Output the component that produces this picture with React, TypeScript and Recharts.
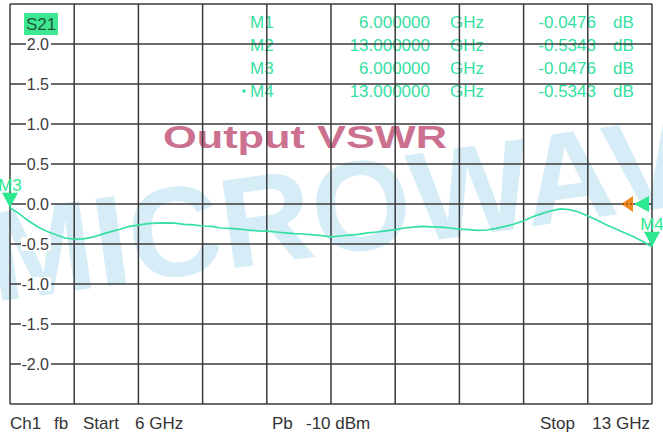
import { ComposedChart, Line, Scatter, XAxis, YAxis, CartesianGrid, ReferenceDot } from 'recharts';

const FREQS = [
  6.0, 6.1, 6.2, 6.3, 6.4, 6.5, 6.6, 6.7, 6.8, 6.9,
  7.0, 7.1, 7.2, 7.3, 7.4, 7.5, 7.6, 7.7, 7.8, 7.9,
  8.0, 8.1, 8.2, 8.3, 8.4, 8.5, 8.6, 8.7, 8.8, 8.9,
  9.0, 9.1, 9.2, 9.3, 9.4, 9.5, 9.6, 9.7, 9.8, 9.9,
  10.0, 10.1, 10.2, 10.3, 10.4, 10.5, 10.6, 10.7, 10.8, 10.9,
  11.0, 11.1, 11.2, 11.3, 11.4, 11.5, 11.6, 11.7, 11.8, 11.9,
  12.0, 12.1, 12.2, 12.3, 12.4, 12.5, 12.6, 12.7, 12.8, 12.9,
  13.0,
];
const S21 = [
  -0.048, -0.12, -0.21, -0.285, -0.34, -0.385, -0.425, -0.44, -0.435, -0.415,
  -0.38, -0.345, -0.315, -0.28, -0.265, -0.245, -0.24, -0.235, -0.24, -0.255,
  -0.26, -0.275, -0.28, -0.3, -0.305, -0.315, -0.325, -0.335, -0.34, -0.35,
  -0.36, -0.37, -0.375, -0.385, -0.395, -0.41, -0.4, -0.39, -0.38, -0.36,
  -0.35, -0.335, -0.32, -0.3, -0.29, -0.28, -0.285, -0.29, -0.3, -0.315,
  -0.32, -0.33, -0.325, -0.305, -0.28, -0.25, -0.21, -0.16, -0.12, -0.085,
  -0.06, -0.07, -0.1, -0.15, -0.2, -0.26, -0.31, -0.36, -0.41, -0.47,
  -0.534,
];

const X_TICKS = [6, 6.7, 7.4, 8.1, 8.8, 9.5, 10.2, 10.9, 11.6, 12.3, 13];
const Y_TICKS = [-2.5, -2.0, -1.5, -1.0, -0.5, 0, 0.5, 1.0, 1.5, 2.0, 2.5];

// markers shown on the trace
const MARKER_NAMES = ['M3', 'M4'];
const MARKER_FREQS = [6, 13];
const MARKER_VALUES = [-0.0476, -0.5343];

// marker readout table
const TABLE_NAMES = ['M1', 'M2', 'M3', 'M4'];
const TABLE_FREQS = ['6.000000', '13.000000', '6.000000', '13.000000'];
const TABLE_VALUES = ['-0.0476', '-0.5343', '-0.0476', '-0.5343'];

const trace = FREQS.map((f, i) => ({ f, v: S21[i] }));
const markers = MARKER_NAMES.map((name, i) => ({ name, f: MARKER_FREQS[i], v: MARKER_VALUES[i] }));

const GREEN = '#36e0a2';
const MARK = '#2de88e';
const GRID = '#3a3a3a';
const FONT = '"Liberation Sans", Arial, sans-serif';

const renderYTick = (props: any) => {
  const { y, payload } = props;
  const v = payload.value;
  if (Math.abs(v) > 2.01) return <g />;
  const label = v.toFixed(1);
  const w = v < 0 ? 30 : 25;
  return (
    <g>
      <rect x={51 - w} y={y - 7} width={w} height={14} fill="#ffffff" />
      <text x={49} y={y + 6} textAnchor="end" fontSize={16} fill="#3c3c3c" fontFamily={FONT}>
        {label}
      </text>
    </g>
  );
};

const MarkerShape = (props: any) => {
  const { cx, cy, payload } = props;
  return (
    <g>
      <polygon points={`${cx - 8},${cy - 15} ${cx + 8},${cy - 15} ${cx},${cy}`} fill={MARK} />
      <text x={cx} y={cy - 17} textAnchor="middle" fontSize={17} fill={MARK} fontFamily={FONT}>
        {payload.name}
      </text>
    </g>
  );
};

const RefLevelShape = (props: any) => {
  const { cx, cy } = props;
  return (
    <g>
      <polygon points={`${cx - 31},${cy} ${cx - 19},${cy - 8} ${cx - 19},${cy + 8}`} fill="#f08a24" />
      <line x1={cx - 30} y1={cy} x2={cx - 20} y2={cy} stroke="#5a3010" strokeDasharray="2 2" />
      <polygon points={`${cx - 18},${cy} ${cx - 3},${cy - 8} ${cx - 3},${cy + 8}`} fill={MARK} />
    </g>
  );
};

export default function App() {
  const rowY = [28, 51, 74, 97];
  return (
    <div style={{ position: 'absolute', left: 0, top: 0, width: 663, height: 436, background: '#ffffff', overflow: 'hidden' }}>
      {/* background layer: watermark, title, readout */}
      <svg width={663} height={436} style={{ position: 'absolute', left: 0, top: 0 }}>
        <text
          transform="translate(-6,302) rotate(-8)"
          fontSize={128}
          fontWeight="bold"
          fill="#d6edf7"
          fontFamily={FONT}
        >
          MICROWAVE
        </text>
        <text
          x={163}
          y={148}
          fontSize={32}
          fontWeight="bold"
          fill="#cc7090"
          fontFamily={FONT}
          textLength={284}
          lengthAdjust="spacingAndGlyphs"
        >
          Output VSWR
        </text>
        {TABLE_NAMES.map((n, i) => (
          <g key={n} fontSize={17} fill={GREEN} fontFamily={FONT}>
            {i === 3 && <circle cx={244} cy={rowY[i] - 6} r={1.8} fill={GREEN} />}
            <text x={250} y={rowY[i]}>{n}</text>
            <text x={430} y={rowY[i]} textAnchor="end">{TABLE_FREQS[i]}</text>
            <text x={450} y={rowY[i]}>GHz</text>
            <text x={596} y={rowY[i]} textAnchor="end">{TABLE_VALUES[i]}</text>
            <text x={613} y={rowY[i]}>dB</text>
          </g>
        ))}
        <rect x={24} y={13} width={34} height={22} fill="#3ee892" />
        <text x={41} y={30} textAnchor="middle" fontSize={17} fill="#1d5a3a" fontFamily={FONT}>S21</text>
        <g fontSize={17} fill="#333333" fontFamily={FONT}>
          <text x={10} y={429}>Ch1</text>
          <text x={54} y={429}>fb</text>
          <text x={83} y={429}>Start</text>
          <text x={135} y={429}>6 GHz</text>
          <text x={272} y={429}>Pb</text>
          <text x={306} y={429}>-10 dBm</text>
          <text x={540} y={429}>Stop</text>
          <text x={650} y={429} textAnchor="end">13 GHz</text>
        </g>
      </svg>
      <div style={{ position: 'absolute', left: 0, top: 0 }}>
        <ComposedChart width={663} height={436} margin={{ top: 4, right: 11, bottom: 31, left: 9 }}>
          <CartesianGrid stroke={GRID} strokeWidth={1.5} />
          <XAxis
            type="number"
            dataKey="f"
            domain={[6, 13]}
            ticks={X_TICKS}
            interval={0}
            tick={() => <g />}
            tickLine={false}
            axisLine={false}
            height={1}
          />
          <YAxis
            type="number"
            domain={[-2.5, 2.5]}
            ticks={Y_TICKS}
            interval={0}
            tick={renderYTick}
            tickLine={false}
            axisLine={false}
            width={1}
          />
          <Line
            data={trace}
            dataKey="v"
            type="linear"
            stroke={GREEN}
            strokeWidth={1.7}
            dot={false}
            activeDot={false}
            isAnimationActive={false}
          />
          <ReferenceDot x={13} y={0} r={0} ifOverflow="visible" shape={<RefLevelShape />} />
          <Scatter data={markers} dataKey="v" shape={<MarkerShape />} isAnimationActive={false} />
        </ComposedChart>
      </div>
    </div>
  );
}
